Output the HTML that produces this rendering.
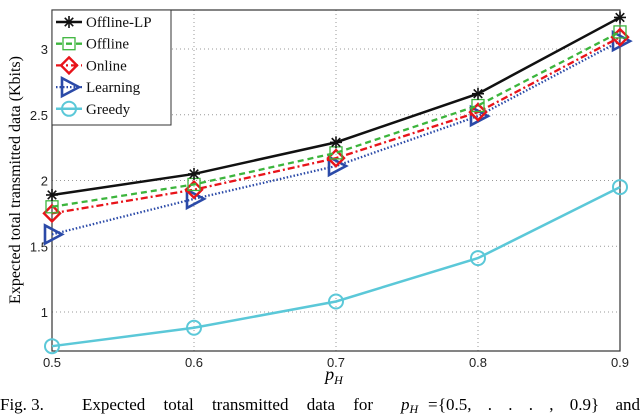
<!DOCTYPE html>
<html><head><meta charset="utf-8"><style>
body{margin:0;background:#fff;width:640px;height:414px;overflow:hidden}
svg text{font-family:"Liberation Serif",serif}
svg .tick{font-family:"Liberation Sans",sans-serif}
</style></head><body>
<svg width="640" height="414">
<g id="grid"></g>
<g id="axes"></g>
<g id="series"></g>
<g id="legend"></g>
<text x="20" y="180" transform="rotate(-90 20 180)" text-anchor="middle" font-size="16">Expected total transmitted data (Kbits)</text>
<text x="334" y="380" text-anchor="middle" font-size="18" font-style="italic">p<tspan font-size="12" dy="4">H</tspan></text>
<g font-size="17">
<text x="0" y="410">Fig. 3.</text>
<text x="82" y="410" word-spacing="14">Expected total transmitted data for</text>
<text x="401" y="410" font-style="italic">p<tspan font-size="12" dy="3">H</tspan></text>
<text x="428" y="410">=</text>
<text x="640" y="410" text-anchor="end" word-spacing="12">{0.5, . . . , 0.9} and</text>
</g>
</svg>
<script>
const xs=[0.5,0.6,0.7,0.8,0.9];
const xTicks=["0.5","0.6","0.7","0.8","0.9"];
const yTicks=[1,1.5,2,2.5,3];
const offlineLP=[1.89,2.05,2.29,2.66,3.24];
const offline=[1.80,1.97,2.21,2.57,3.13];
const online=[1.75,1.93,2.17,2.52,3.09];
const learning=[1.59,1.86,2.11,2.49,3.06];
const greedy=[0.74,0.88,1.08,1.41,1.95];
const L=52,R=620,T=10,B=351;
const X=v=>L+(v-0.5)/0.4*(R-L);
const Y=v=>312-(v-1)*131.5;
const NS="http://www.w3.org/2000/svg";
function mk(p,t,a){const e=document.createElementNS(NS,t);for(const k in a)e.setAttribute(k,a[k]);p.appendChild(e);return e;}
const g=document.getElementById('grid'),ax=document.getElementById('axes'),s=document.getElementById('series'),lg=document.getElementById('legend');
xs.forEach((v,i)=>{
  if(i>0&&i<xs.length-1){const l=mk(g,'line',{x1:X(v),x2:X(v),y1:T,y2:B,stroke:'#999','stroke-dasharray':'1,3'});
  
  }
  const t=mk(ax,'text',{x:X(v),y:B+16,'text-anchor':'middle','font-size':13,fill:'#222',class:'tick'});t.textContent=xTicks[i];
  
  
});
yTicks.forEach(v=>{
  const l=mk(g,'line',{x1:L,x2:R,y1:Y(v),y2:Y(v),stroke:'#999','stroke-dasharray':'1,3'});
  
  
  const t=mk(ax,'text',{x:L-4,y:Y(v)+5,'text-anchor':'end','font-size':13,fill:'#222',class:'tick'});t.textContent=String(v);
  
  
});
const fr=mk(ax,'rect',{x:L,y:T,width:R-L,height:B-T,fill:'none',stroke:'#333','stroke-width':1.2});


function marker(p,type,cx,cy,col){
  if(type==='star'){for(let a=0;a<4;a++){const an=a*Math.PI/4;mk(p,'line',{x1:cx-6*Math.cos(an),y1:cy-6*Math.sin(an),x2:cx+6*Math.cos(an),y2:cy+6*Math.sin(an),stroke:col,'stroke-width':1.6});}}
  else if(type==='square')mk(p,'rect',{x:cx-6,y:cy-6,width:12,height:12,fill:'none',stroke:col,'stroke-width':1.3});
  else if(type==='diamond')mk(p,'polygon',{points:`${cx},${cy-8} ${cx+8},${cy} ${cx},${cy+8} ${cx-8},${cy}`,fill:'none',stroke:col,'stroke-width':2.4});
  else if(type==='tri')mk(p,'polygon',{points:`${cx-7},${cy-9} ${cx+10},${cy} ${cx-7},${cy+9}`,fill:'none',stroke:col,'stroke-width':2.6});
  else if(type==='circle')mk(p,'circle',{cx:cx,cy:cy,r:7,fill:'none',stroke:col,'stroke-width':2});
}
const defs=[
 ['Offline-LP',offlineLP,'#111','',2.5,'star'],
 ['Offline',offline,'#3db53d','6,4',2.3,'square'],
 ['Online',online,'#e8141a','7,3,2,3',2.3,'diamond'],
 ['Learning',learning,'#2b4aa8','1.5,2',2.3,'tri'],
 ['Greedy',greedy,'#5bc8d8','',2.5,'circle']];
defs.slice().reverse().forEach(([n,d,c,da,w,m])=>{
  const grp=mk(s,'g',{});
  
  
  mk(grp,'polyline',{points:d.map((v,i)=>X(xs[i])+','+Y(v)).join(' '),fill:'none',stroke:c,'stroke-width':w,'stroke-dasharray':da});
  d.forEach((v,i)=>marker(grp,m,X(xs[i]),Y(v),c));
});
const lb=mk(lg,'rect',{x:L,y:T,width:119,height:115,fill:'#fff',stroke:'#333','stroke-width':1});


defs.forEach(([n,d,c,da,w,m],i)=>{
  const y=22+i*21.7;
  const e=mk(lg,'g',{});
  
  
  mk(e,'line',{x1:56,x2:82,y1:y,y2:y,stroke:c,'stroke-width':w,'stroke-dasharray':da});
  marker(e,m,69,y,c);
  const t=mk(e,'text',{x:86,y:y+5,'font-size':15,fill:'#111'});t.textContent=n;
});
</script>
</body></html>
